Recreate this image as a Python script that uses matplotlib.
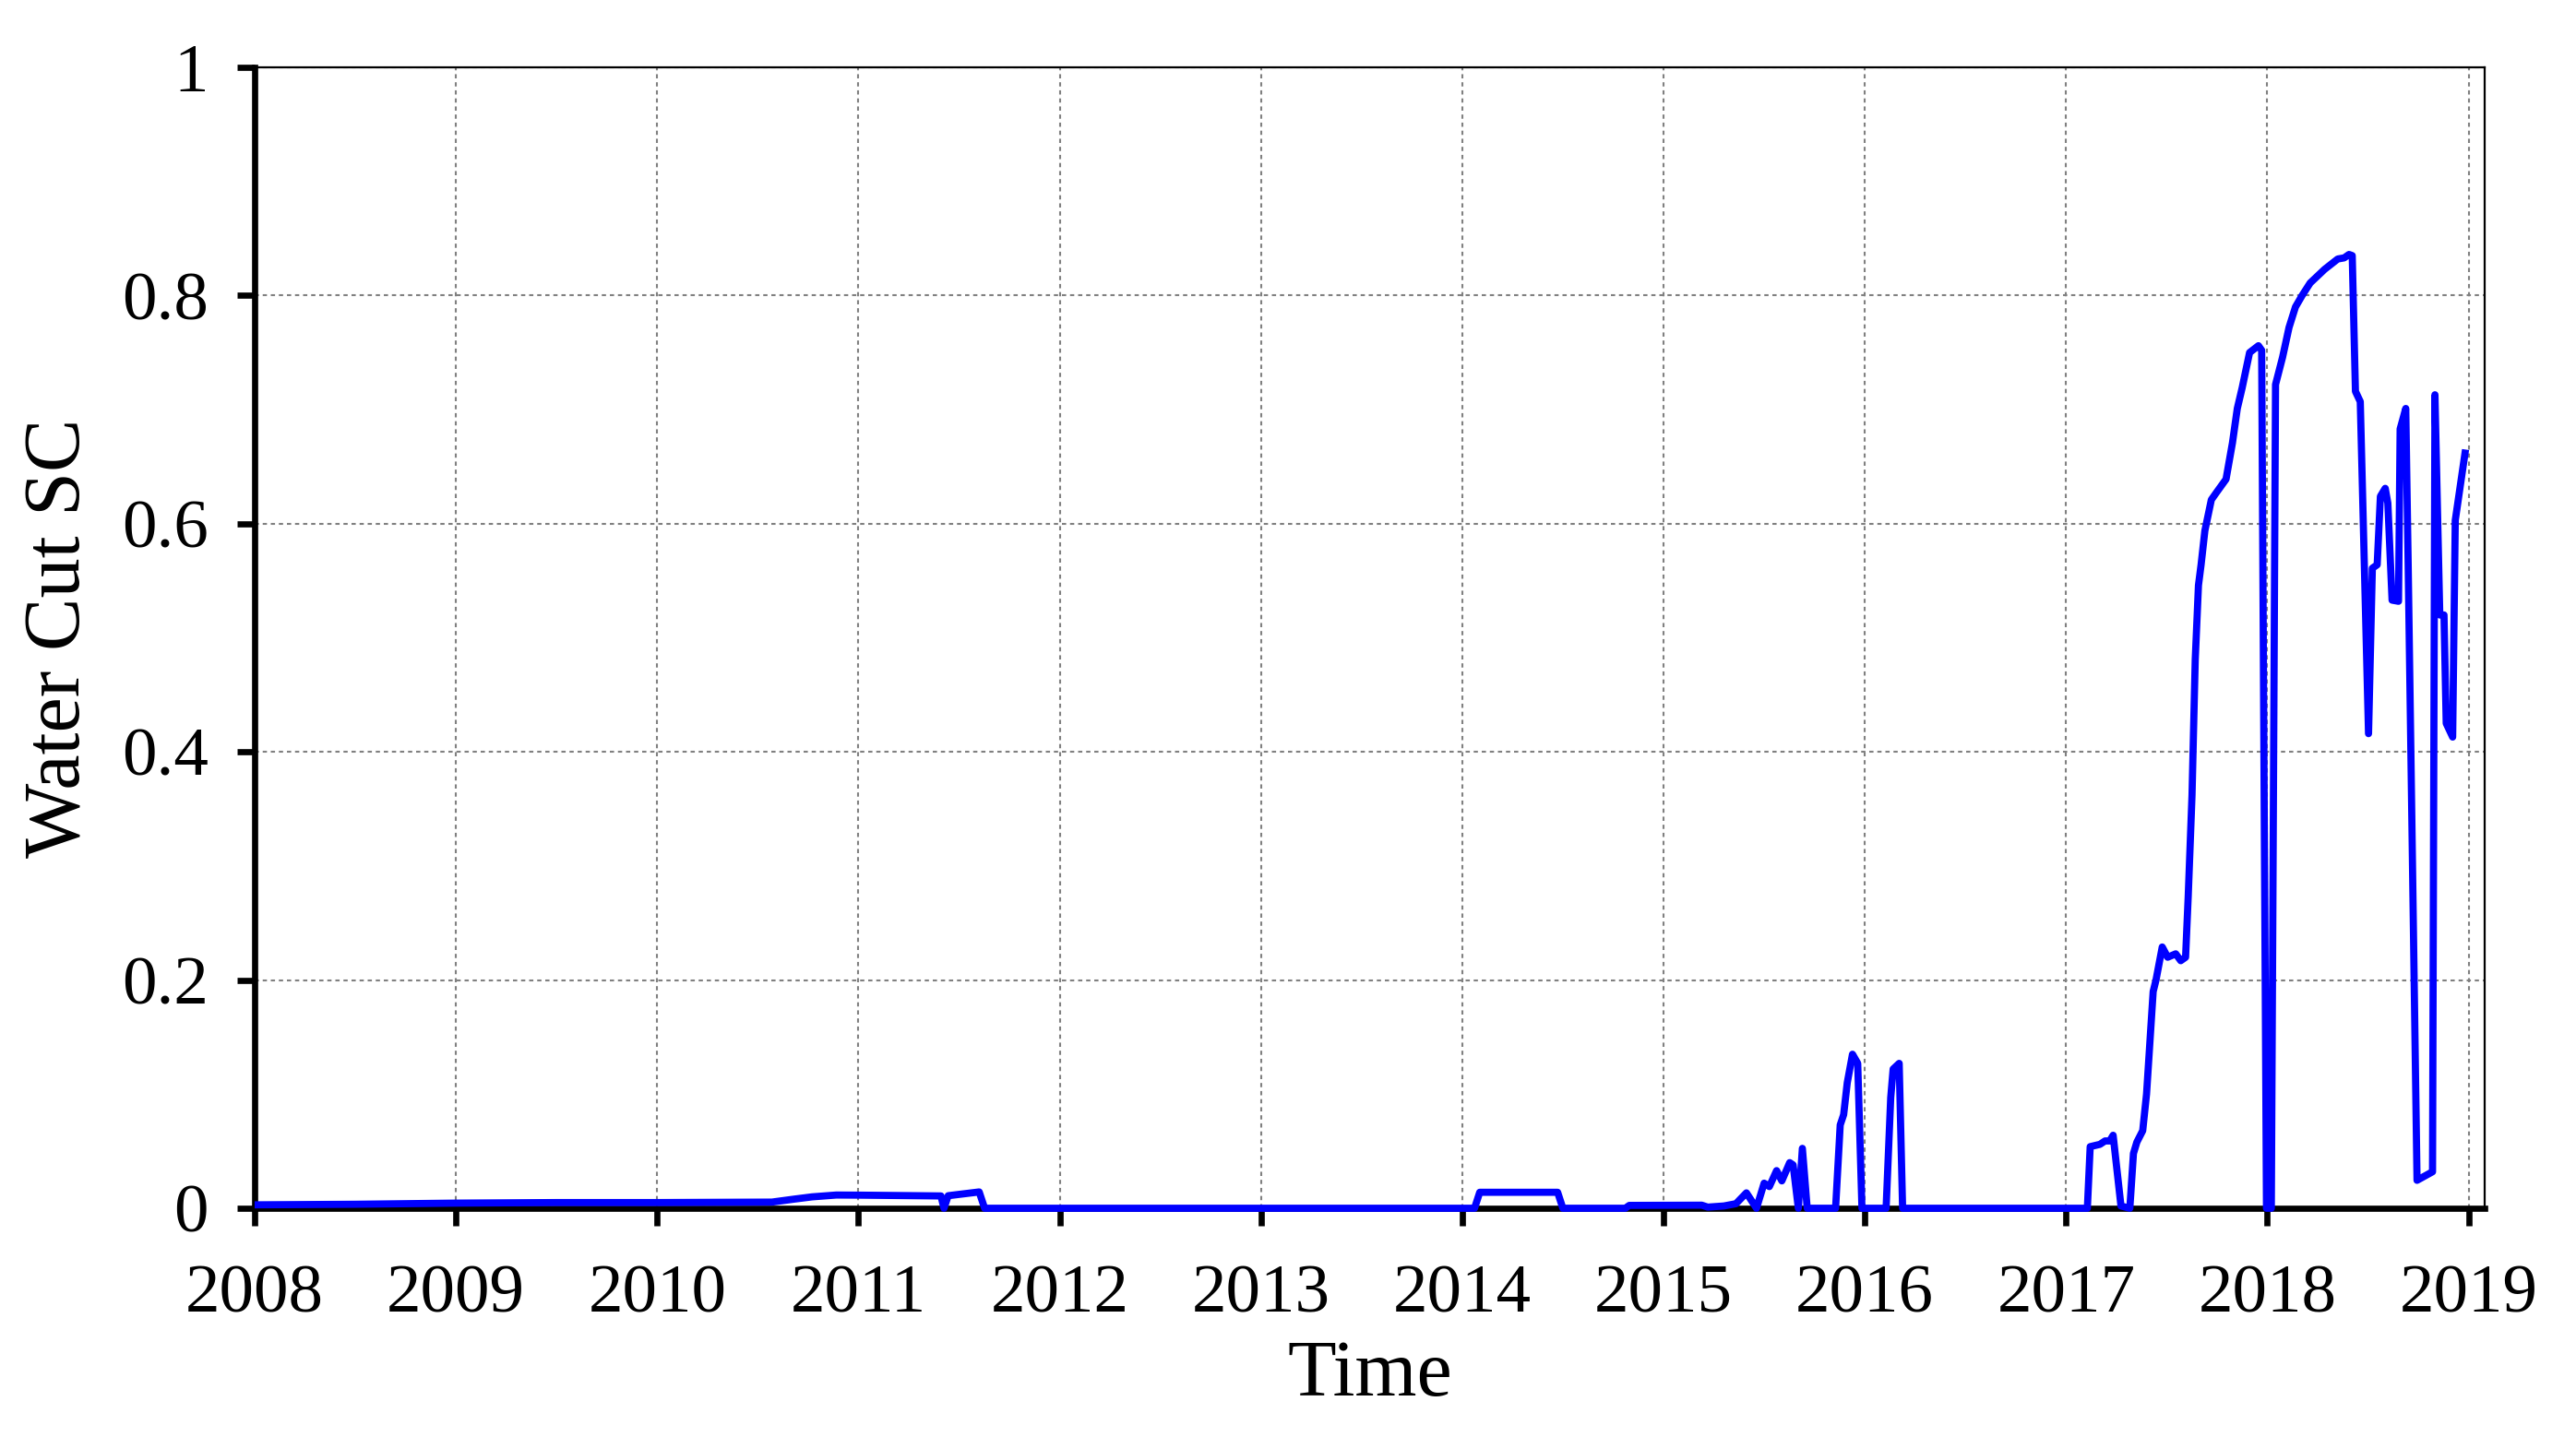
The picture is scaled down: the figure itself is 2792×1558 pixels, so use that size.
import matplotlib
matplotlib.use("Agg")
import matplotlib.pyplot as plt
import numpy as np

# ---- data (fractional years, water cut) ----
time_years = [
    2008.00, 2008.50, 2009.00, 2009.50, 2010.00, 2010.57, 2010.68, 2010.77, 2010.89,
    2011.00, 2011.41, 2011.425, 2011.446, 2011.60, 2011.627,
    2014.061, 2014.087, 2014.474, 2014.50, 2014.81, 2014.83, 2015.19, 2015.22, 2015.30,
    2015.36, 2015.412, 2015.462, 2015.50, 2015.526, 2015.562, 2015.588, 2015.627,
    2015.644, 2015.670, 2015.690, 2015.714, 2015.855, 2015.878, 2015.895, 2015.913,
    2015.939, 2015.965, 2015.986, 2016.106, 2016.129, 2016.141, 2016.171, 2016.188,
    2017.106, 2017.12, 2017.168, 2017.194, 2017.217, 2017.234, 2017.273, 2017.317,
    2017.335, 2017.352, 2017.381, 2017.40, 2017.433, 2017.447, 2017.478, 2017.505,
    2017.545, 2017.57, 2017.594, 2017.607, 2017.626, 2017.642, 2017.658, 2017.671,
    2017.69, 2017.722, 2017.746, 2017.795, 2017.827, 2017.851, 2017.875, 2017.912,
    2017.956, 2017.972, 2017.996, 2018.02, 2018.041, 2018.076, 2018.108, 2018.14,
    2018.173, 2018.213, 2018.285, 2018.35, 2018.382, 2018.406, 2018.422, 2018.438,
    2018.462, 2018.503, 2018.522, 2018.546, 2018.562, 2018.586, 2018.599, 2018.62,
    2018.652, 2018.66, 2018.688, 2018.70, 2018.744, 2018.821, 2018.833, 2018.857,
    2018.878, 2018.889, 2018.921, 2018.934, 2018.985,
]
water_cut = [
    0.003, 0.0035, 0.0045, 0.005, 0.005, 0.0054, 0.008, 0.010, 0.0116,
    0.0115, 0.0108, 0.0, 0.011, 0.0143, 0.0,
    0.0, 0.014, 0.014, 0.0, 0.0, 0.0025, 0.0027, 0.001, 0.002,
    0.004, 0.0135, 0.0, 0.022, 0.019, 0.033, 0.024, 0.040,
    0.038, 0.0, 0.0525, 0.0, 0.0, 0.073, 0.082, 0.11,
    0.135, 0.127, 0.0, 0.0, 0.097, 0.122, 0.127, 0.0,
    0.0, 0.054, 0.056, 0.059, 0.059, 0.064, 0.002, 0.0,
    0.048, 0.058, 0.068, 0.10, 0.19, 0.20, 0.229, 0.22,
    0.223, 0.217, 0.22, 0.273, 0.362, 0.481, 0.546, 0.564,
    0.594, 0.621, 0.627, 0.639, 0.671, 0.701, 0.719, 0.75,
    0.756, 0.752, 0.0, 0.0, 0.722, 0.746, 0.772, 0.79,
    0.80, 0.811, 0.823, 0.832, 0.833, 0.836, 0.835, 0.716,
    0.707, 0.416, 0.561, 0.564, 0.624, 0.631, 0.618, 0.533,
    0.532, 0.683, 0.701, 0.564, 0.0245, 0.032, 0.713, 0.52,
    0.52, 0.425, 0.413, 0.603, 0.665,
]
x_ticks = [2008, 2009, 2010, 2011, 2012, 2013, 2014, 2015, 2016, 2017, 2018, 2019]
x_tick_labels = [str(v) for v in x_ticks]
y_ticks = [0, 0.2, 0.4, 0.6, 0.8, 1.0]
y_tick_labels = ["0", "0.2", "0.4", "0.6", "0.8", "1"]

plt.rcParams['font.family'] = ['Liberation Serif', 'DejaVu Serif']

DPI = 200
fig = plt.figure(figsize=(2792 / DPI, 1558 / DPI), dpi=DPI)
ax = fig.add_axes([276 / 2792, 1 - 1310 / 1558, (2693 - 276) / 2792, (1310 - 73) / 1558])

ax.plot(time_years, water_cut, color='#0000FF', linewidth=2.8, zorder=3, clip_on=False,
        solid_joinstyle='round', solid_capstyle='butt')

ax.set_xlim(2008, 2019.08)
ax.set_ylim(0, 1)
ax.set_xticks(x_ticks)
ax.set_xticklabels(x_tick_labels)
ax.set_yticks(y_ticks)
ax.set_yticklabels(y_tick_labels)

ax.grid(True, color='#808080', linewidth=0.75, linestyle=(0, (2.2, 2.0)), zorder=0)
ax.set_axisbelow(True)

for side in ['top', 'right']:
    ax.spines[side].set_linewidth(0.8)
for side in ['left', 'bottom']:
    ax.spines[side].set_linewidth(2.4)
    ax.spines[side].set_zorder(2.5)

ax.tick_params(axis='both', which='major', direction='out', length=7, width=2.4,
               labelsize=27, color='black')
ax.tick_params(axis='x', pad=15)
ax.tick_params(axis='y', pad=11)

ax.set_xlabel('Time', fontsize=31, labelpad=5)
ax.set_ylabel('Water Cut SC', fontsize=31, labelpad=9.5)

fig.savefig('out.png', dpi=DPI, facecolor='white')
